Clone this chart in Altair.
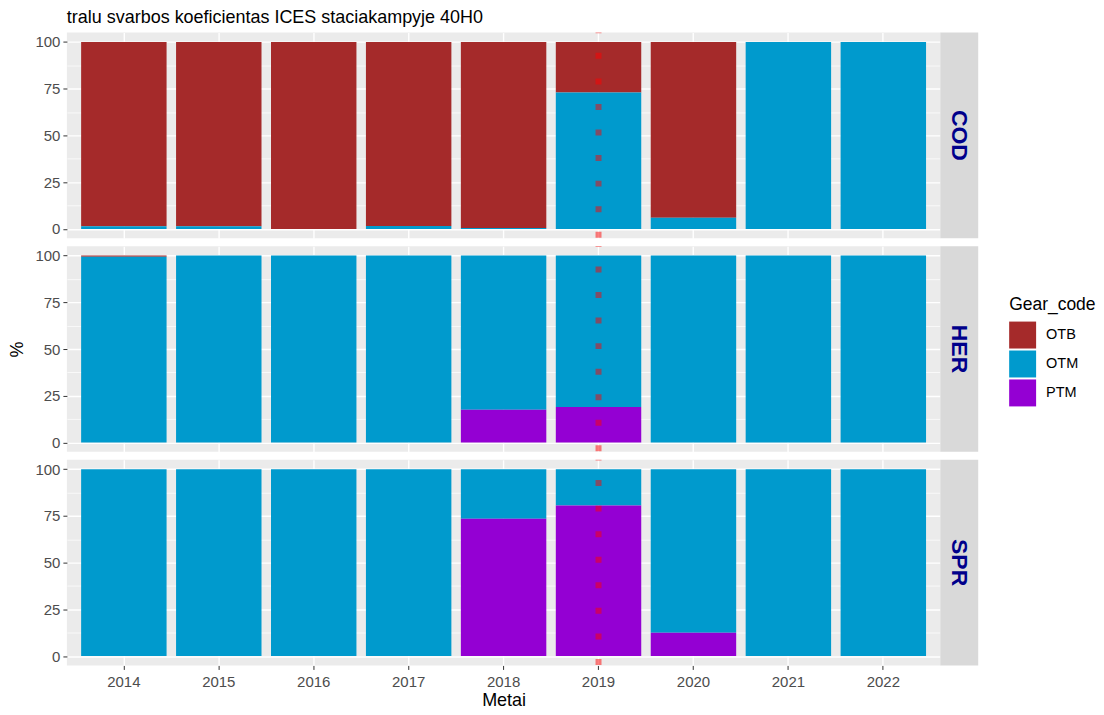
import altair as alt
import pandas as pd

YEARS = ["2014", "2015", "2016", "2017", "2018", "2019", "2020", "2021", "2022"]
SPECIES = ["COD", "HER", "SPR"]
GEARS = ["OTB", "OTM", "PTM"]
GEAR_COLORS = ["#A52A2A", "#009ACD", "#9400D3"]

COD_OTB = [98.6, 98.6, 100.0, 98.5, 99.5, 27.0, 94.0, 0.0, 0.0]
COD_OTM = [1.4, 1.4, 0.0, 1.5, 0.5, 73.0, 6.0, 100.0, 100.0]
COD_PTM = [0, 0, 0, 0, 0, 0, 0, 0, 0]
HER_OTB = [0.7, 0, 0, 0, 0, 0, 0, 0, 0]
HER_OTM = [99.3, 100.0, 100.0, 100.0, 82.5, 81.0, 100.0, 100.0, 100.0]
HER_PTM = [0, 0, 0, 0, 17.5, 19.0, 0, 0, 0]
SPR_OTB = [0, 0, 0, 0, 0, 0, 0, 0, 0]
SPR_OTM = [100.0, 100.0, 100.0, 100.0, 26.5, 19.5, 87.5, 100.0, 100.0]
SPR_PTM = [0, 0, 0, 0, 73.5, 80.5, 12.5, 0, 0]

VLINE_YEAR = ["2019"]
Y_BREAKS = [0, 12.5, 25, 37.5, 50, 62.5, 75, 87.5, 100]

SERIES = {
    "COD": {"OTB": COD_OTB, "OTM": COD_OTM, "PTM": COD_PTM},
    "HER": {"OTB": HER_OTB, "OTM": HER_OTM, "PTM": HER_PTM},
    "SPR": {"OTB": SPR_OTB, "OTM": SPR_OTM, "PTM": SPR_PTM},
}

FONT = "Liberation Sans"
PW, PH, SW = 875, 206, 38

major = "datum.value % 25 == 0"


def panel(sp, bottom, show_ytitle):
    rows = []
    for g in GEARS:
        for y, v in zip(YEARS, SERIES[sp][g]):
            if v > 0:
                rows.append({"Metai": y, "Gear_code": g, "pct": v})
    df = pd.DataFrame(rows)

    if bottom:
        xaxis = alt.Axis(title="Metai", labelAngle=0, bandPosition=0.5,
                         grid=True, gridColor="white", gridWidth=1.4,
                         domain=False, tickColor="#333333", tickSize=4,
                         labelFontSize=15, labelColor="#4D4D4D", labelPadding=5,
                         titleFontSize=18, titleFontWeight="normal", titleColor="black",
                         titlePadding=2, labelFont=FONT, titleFont=FONT)
    else:
        xaxis = alt.Axis(title=None, labels=False, ticks=False, bandPosition=0.5,
                         grid=True, gridColor="white", gridWidth=1.4,
                         domain=False, labelPadding=0, tickSize=0)

    yaxis = alt.Axis(title="%", values=Y_BREAKS,
                     labelExpr=major + " ? datum.label : ''",
                     grid=True, gridColor="white",
                     gridWidth={"condition": {"test": major, "value": 1.4}, "value": 0.7},
                     tickOpacity={"condition": {"test": major, "value": 1}, "value": 0},
                     domain=False, tickColor="#333333", tickSize=4,
                     labelFontSize=15, labelColor="#4D4D4D", labelPadding=3,
                     titleFontSize=18, titleFontWeight="normal", titleColor="black",
                     titleOpacity=1 if show_ytitle else 0, titlePadding=8,
                     labelFont=FONT, titleFont=FONT)

    xscale = alt.Scale(domain=YEARS, paddingInner=0.1, paddingOuter=0.15)

    bars = alt.Chart(df).mark_bar().encode(
        x=alt.X("Metai:O", scale=xscale, axis=xaxis),
        y=alt.Y("pct:Q", stack="zero", scale=alt.Scale(domain=[-5, 105], nice=False, zero=False),
                axis=yaxis),
        color=alt.Color("Gear_code:N",
                        scale=alt.Scale(domain=GEARS, range=GEAR_COLORS),
                        legend=alt.Legend(title="Gear_code", orient="none",
                                          legendX=944, legendY=264,
                                          symbolType="square", symbolSize=729,
                                          symbolStrokeWidth=0, rowPadding=2,
                                          labelFontSize=14.5, titleFontSize=17.5,
                                          titleFontWeight="normal", titleColor="black",
                                          labelColor="black", labelOffset=10,
                                          titlePadding=8, labelFont=FONT, titleFont=FONT)),
        order=alt.Order("Gear_code:N", sort="descending"),
    )

    vline = alt.Chart(pd.DataFrame({"Metai": VLINE_YEAR})).mark_rule(
        color="red", opacity=0.5, strokeWidth=6, strokeDash=[6, 19.6], strokeDashOffset=5.3
    ).encode(x=alt.X("Metai:O", scale=xscale, axis=xaxis))

    p = alt.layer(bars, vline).properties(
        width=PW, height=PH,
        view=alt.ViewBackground(fill="#EBEBEB", stroke=None),
    )

    strip = alt.Chart(pd.DataFrame({"sp": [sp]})).mark_text(
        angle=90, align="center", baseline="middle", fontSize=23, fontWeight="bold",
        color="#00008B", font=FONT
    ).encode(text="sp:N", x=alt.value(SW / 2), y=alt.value(PH / 2)).properties(
        width=SW, height=PH, view=alt.ViewBackground(fill="#D9D9D9", stroke=None)
    )
    return alt.hconcat(p, strip, spacing=0)


rows = [panel(sp, i == len(SPECIES) - 1, i == 1) for i, sp in enumerate(SPECIES)]

chart = alt.vconcat(*rows, spacing=2).properties(
    title=alt.TitleParams("tralu svarbos koeficientas ICES staciakampyje 40H0",
                          anchor="start", fontSize=18, fontWeight="normal",
                          color="black", font=FONT, offset=3, dx=58),
    padding={"left": 0, "top": 0, "right": 0, "bottom": 0},
).configure_view(stroke=None).resolve_scale(color="shared")

chart.save("out.html", embed_options={"renderer": "svg", "actions": False})
